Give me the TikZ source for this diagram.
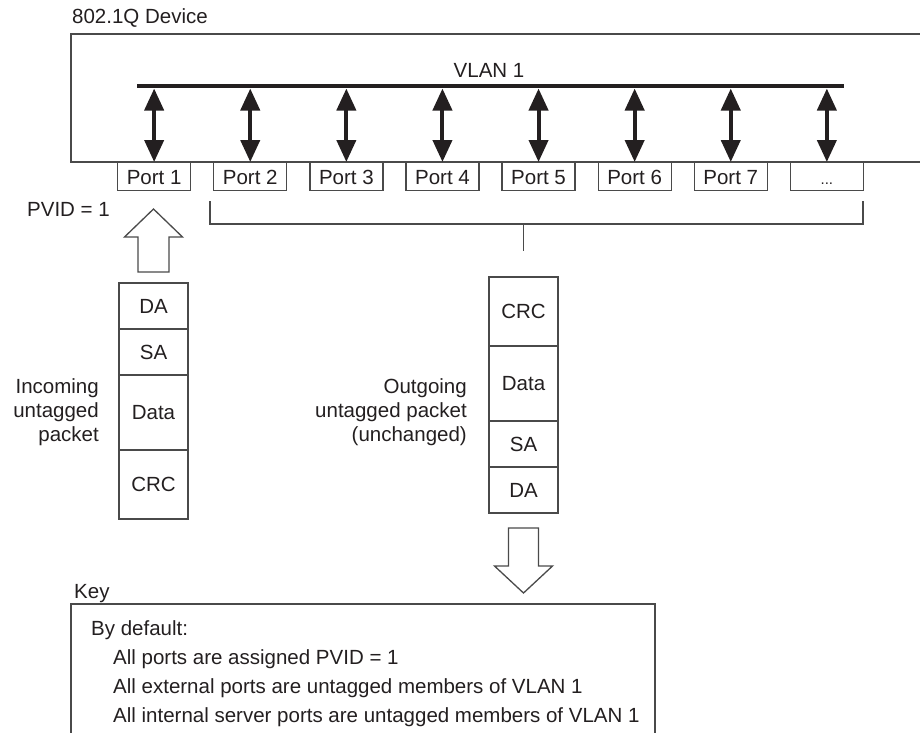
\documentclass[tikz,border=0pt]{standalone}
\usepackage{fontspec}
\setmainfont{Liberation Sans}
\usetikzlibrary{arrows.meta}
\definecolor{ink}{HTML}{231F20}
\definecolor{rule}{HTML}{4A4A4A}
\begin{document}
\begin{tikzpicture}[x=1pt, y=-1pt,
  font=\fontsize{20.5}{24}\selectfont, text=ink,
  frame/.style={draw=rule, line width=1.3pt},
  portbox/.style={frame, rectangle, minimum width=73pt, minimum height=28pt,
    inner sep=0pt, text height=14.7pt, text depth=0pt, anchor=north west},
  cell/.style={frame, rectangle, minimum width=69pt, inner sep=0pt},
  link/.style={draw=ink, line width=4pt,
    {Triangle[width=19pt,length=22pt]}-{Triangle[width=19pt,length=22pt]}},
  hollow/.style={draw=rule, line width=1.3pt, fill=white, line join=miter},
  txt/.style={inner sep=0pt},
  sidelabel/.style={txt, align=right, anchor=east}
]
\useasboundingbox (0,0) rectangle (920,732);

% device outline (runs off the right edge)
\draw[frame] (925,34) -- (71,34) -- (71,162) -- (925,162);
\node[txt, anchor=base west] (devlabel) at (72,23) {802.1Q Device};
\node[txt, anchor=base] (vlanlabel) at (489,77) {VLAN 1};

% VLAN bus
\coordinate (barL) at (137,86);
\coordinate (barR) at (844,86);
\coordinate (barbase) at (0,88.5);
\draw[ink, line width=4.5pt] (barL) -- (barR);

% ports
\foreach \i in {1,2,3,4,5,6,7}
  \node[portbox] (p\i) at ({117+96.1*(\i-1)},162) {Port \i};
\node[portbox] (p8) at ({117+96.1*7},162) {\fontsize{15}{16}\selectfont ...};
\foreach \i in {1,2,3,4,5,6,7,8}
  \draw[link] (p\i.north |- barbase) -- (p\i.north);

% PVID and ingress arrow
\node[txt, anchor=west] (pvid) at (27,209) {PVID = 1};
\draw[hollow] (153.5,209) -- (182.5,237) -- (169,237) -- (169,272)
  -- (138,272) -- (138,237) -- (124.5,237) -- cycle;

% bracket over the egress ports
\coordinate (brL) at (210,201);
\coordinate (brR) at (863,201);
\coordinate (brM) at (523.5,224);
\coordinate (brStem) at (523.5,251);
\draw[frame] (brL) |- (brM) -| (brR);
\draw[frame] (brM) -- (brStem);

% incoming packet
\node[cell, minimum height=46pt] (inDA)   at (153.5,306)   {DA};
\node[cell, minimum height=46pt] (inSA)   at (153.5,352)   {SA};
\node[cell, minimum height=75pt] (inData) at (153.5,412.5) {Data};
\node[cell, minimum height=69pt] (inCRC)  at (153.5,484.5) {CRC};
\node[sidelabel] (inlabel) at (99,412) {Incoming\\untagged\\packet};

% outgoing packet
\node[cell, minimum height=69pt] (outCRC)  at (523.5,311.5) {CRC};
\node[cell, minimum height=75pt] (outData) at (523.5,383.5) {Data};
\node[cell, minimum height=46pt] (outSA)   at (523.5,444)   {SA};
\node[cell, minimum height=46pt] (outDA)   at (523.5,490)   {DA};
\node[sidelabel] (outlabel) at (467,412) {Outgoing\\untagged packet\\(unchanged)};

% egress arrow
\draw[hollow] (508.5,528) -- (538.5,528) -- (538.5,566) -- (552.5,566)
  -- (523.5,593) -- (494.5,566) -- (508.5,566) -- cycle;

% key
\node[txt, anchor=base west] (key) at (74,598) {Key};
\draw[frame] (71,745) -- (71,604) -- (655,604) -- (655,745);
\node[txt, anchor=base west] (k0) at (91,635.5) {By default:};
\node[txt, anchor=base west] (k1) at (113,664.5) {All ports are assigned PVID = 1};
\node[txt, anchor=base west] (k2) at (113,693.5) {All external ports are untagged members of VLAN 1};
\node[txt, anchor=base west] (k3) at (113,722.5) {All internal server ports are untagged members of VLAN 1};
\end{tikzpicture}
\end{document}
